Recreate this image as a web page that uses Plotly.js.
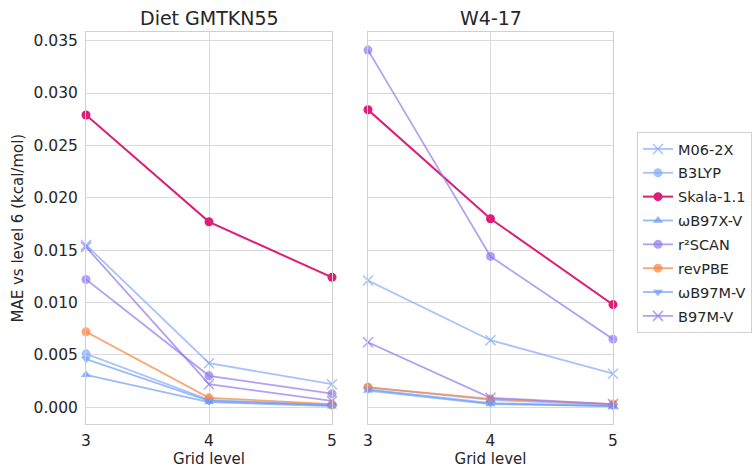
<!DOCTYPE html>
<html>
<head>
<meta charset="utf-8">
<script src="https://cdn.plot.ly/plotly-3.0.1.min.js"></script>
<style>html,body{margin:0;padding:0;background:#fff;}#chart{width:756px;height:468px;}</style>
</head>
<body>
<div id="chart"></div>
<script>
const gridLevels = [3, 4, 5];
const panels = ["Diet GMTKN55", "W4-17"];
const methods = ["M06-2X", "B3LYP", "Skala-1.1", "ωB97X-V", "r²SCAN", "revPBE", "ωB97M-V", "B97M-V"];

// Diet GMTKN55 values
const dietM062X   = [0.0155, 0.0042, 0.0022];
const dietB3LYP   = [0.0051, 0.0007, 0.0002];
const dietSkala   = [0.0279, 0.0177, 0.0124];
const dietWB97XV  = [0.0031, 0.0005, 0.0001];
const dietR2SCAN  = [0.0122, 0.0030, 0.0013];
const dietRevPBE  = [0.0072, 0.0009, 0.0003];
const dietWB97MV  = [0.0046, 0.0006, 0.0002];
const dietB97MV   = [0.0153, 0.0022, 0.0006];

// W4-17 values
const w4M062X   = [0.0121, 0.0064, 0.0032];
const w4B3LYP   = [0.0019, 0.0007, 0.0002];
const w4Skala   = [0.0284, 0.0180, 0.0098];
const w4WB97XV  = [0.0016, 0.0003, 0.0001];
const w4R2SCAN  = [0.0341, 0.0144, 0.0065];
const w4RevPBE  = [0.0019, 0.0008, 0.0003];
const w4WB97MV  = [0.0017, 0.0004, 0.0001];
const w4B97MV   = [0.0062, 0.0009, 0.0003];

const dietSeries = [dietM062X, dietB3LYP, dietSkala, dietWB97XV, dietR2SCAN, dietRevPBE, dietWB97MV, dietB97MV];
const w4Series = [w4M062X, w4B3LYP, w4Skala, w4WB97XV, w4R2SCAN, w4RevPBE, w4WB97MV, w4B97MV];

const styles = [
  {color: "rgba(130,170,246,0.7)", symbol: "x-thin-open", size: 10, mline: 1.5},
  {color: "rgba(130,170,246,0.7)", symbol: "circle", size: 9, mline: 0},
  {color: "rgb(221,30,121)", symbol: "circle", size: 9, mline: 0},
  {color: "rgba(110,155,245,0.7)", symbol: "triangle-up", size: 9, mline: 0},
  {color: "rgba(145,120,236,0.7)", symbol: "circle", size: 9, mline: 0},
  {color: "rgba(248,135,70,0.75)", symbol: "circle", size: 9, mline: 0},
  {color: "rgba(110,155,245,0.7)", symbol: "triangle-down", size: 9, mline: 0},
  {color: "rgba(145,120,236,0.7)", symbol: "x-thin-open", size: 10, mline: 1.5}
];

const traces = [];
[dietSeries, w4Series].forEach((series, p) => {
  series.forEach((vals, i) => {
    const s = styles[i];
    traces.push({
      x: gridLevels, y: vals, name: methods[i],
      type: "scatter", mode: "lines+markers",
      xaxis: p === 0 ? "x" : "x2", yaxis: p === 0 ? "y" : "y2",
      showlegend: p === 0, legendgroup: methods[i],
      cliponaxis: false,
      line: {color: s.color, width: i === 2 ? 2 : 1.8},
      marker: {color: s.color, symbol: s.symbol, size: s.size, line: {color: s.color, width: s.mline}}
    });
  });
});

const fam = "DejaVu Sans, sans-serif";
const txt = "#262626";
const xbase = {
  range: [3, 5], tickvals: gridLevels, ticktext: gridLevels.map(String),
  showgrid: true, gridcolor: "#dadada", gridwidth: 1, zeroline: false,
  showline: true, linecolor: "#d0d0d0", linewidth: 1, mirror: true,
  ticks: "", ticklabelstandoff: 2,
  tickfont: {family: fam, size: 15.5, color: txt},
  title: {text: "Grid level", font: {family: fam, size: 15, color: txt}, standoff: 0},
  fixedrange: true
};
const ybase = {
  range: [-0.0016, 0.0358], dtick: 0.005, tick0: 0, tickformat: ".3f",
  showgrid: true, gridcolor: "#dadada", gridwidth: 1, zeroline: false,
  showline: true, linecolor: "#d0d0d0", linewidth: 1, mirror: true,
  ticks: "", domain: [1 - 424/468, 1 - 32.3/468],
  fixedrange: true
};

const layout = {
  width: 756, height: 468,
  margin: {l: 0, r: 0, t: 0, b: 0},
  paper_bgcolor: "#fff", plot_bgcolor: "#fff",
  font: {family: fam, color: txt},
  showlegend: true,
  xaxis: Object.assign({}, xbase, {domain: [86/756, 332/756], anchor: "y"}),
  xaxis2: Object.assign({}, xbase, {domain: [368/756, 613/756], anchor: "y2"}),
  yaxis: Object.assign({}, ybase, {anchor: "x", ticklabelstandoff: 4,
    tickfont: {family: fam, size: 15.5, color: txt},
    title: {text: "MAE vs level 6 (kcal/mol)", font: {family: fam, size: 15, color: txt}, standoff: 6}}),
  yaxis2: Object.assign({}, ybase, {anchor: "x2", showticklabels: false}),
  legend: {
    x: 637/756, y: 1 - 132/468, xanchor: "left", yanchor: "top",
    bgcolor: "#fff", bordercolor: "#d0d0d0", borderwidth: 1,
    font: {family: fam, size: 14.5, color: txt},
    tracegroupgap: 2, itemwidth: 30
  },
  annotations: [
    {text: panels[0], xref: "paper", yref: "paper", x: 209/756, y: 1 - 18/468, xanchor: "center", yanchor: "middle", showarrow: false, font: {family: fam, size: 19, color: txt}},
    {text: panels[1], xref: "paper", yref: "paper", x: 490.5/756, y: 1 - 18/468, xanchor: "center", yanchor: "middle", showarrow: false, font: {family: fam, size: 19, color: txt}}
  ]
};

Plotly.newPlot("chart", traces, layout, {displayModeBar: false, staticPlot: true});
</script>
</body>
</html>
